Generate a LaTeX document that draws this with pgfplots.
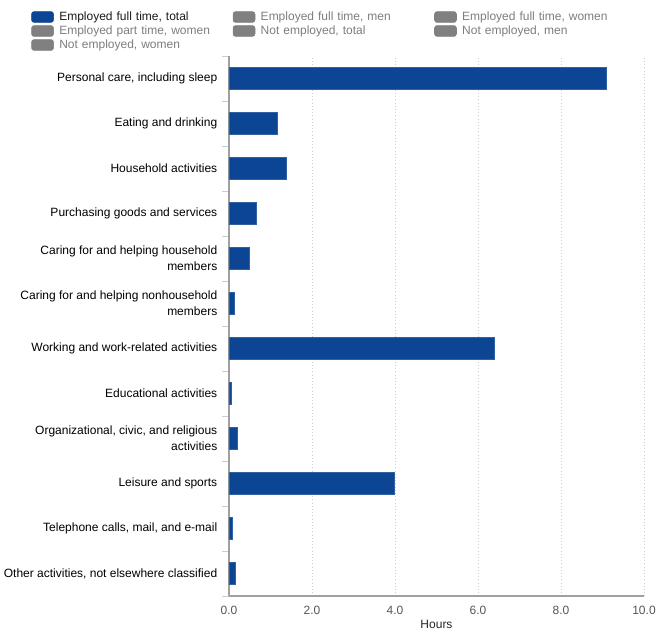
\documentclass[border=0pt]{standalone}
\usepackage{pgfplots}
\pgfplotsset{compat=1.18}
\usepackage{fontspec}
\setmainfont{Liberation Sans}
\definecolor{barblue}{RGB}{11,69,147}
\definecolor{leggray}{RGB}{128,128,128}
\definecolor{legtext}{RGB}{125,125,125}
\definecolor{axgray}{RGB}{160,160,160}
\definecolor{gridgray}{RGB}{205,205,205}
\definecolor{ticklab}{RGB}{85,85,85}
\definecolor{mintick}{RGB}{195,205,220}
\begin{document}
\begin{tikzpicture}
\begin{axis}[
  name=ax,
  width=311.25pt, height=405pt, scale only axis,
  xbar, bar width=16.3pt,
  xmin=0, xmax=10, ymin=-0.5, ymax=11.5,
  axis x line*=bottom, axis y line*=left,
  axis line style={axgray, line width=0.9pt},
  xtick={0,2,4,6,8,10},
  xticklabels={0.0,2.0,4.0,6.0,8.0,10.0},
  xmajorgrids, grid style={gridgray, dotted, line width=0.6pt},
  major x tick style={draw=none},
  ytick={0,...,11},
  major y tick style={draw=none},
  minor ytick={-0.5,0.5,...,11.5},
  minor y tick style={mintick, line width=0.6pt},
  tick align=outside,
  minor tick length=5pt,
  yticklabels={
    {Other activities, not elsewhere classified},
    {Telephone calls, mail, and e-mail},
    {Leisure and sports},
    {Organizational, civic, and religious\\activities},
    {Educational activities},
    {Working and work-related activities},
    {Caring for and helping nonhousehold\\members},
    {Caring for and helping household\\members},
    {Purchasing goods and services},
    {Household activities},
    {Eating and drinking},
    {Personal care, including sleep}},
  yticklabel style={align=right, font=\fontsize{9}{12}\selectfont, text=black, xshift=-1pt},
  xticklabel style={font=\fontsize{9}{11}\selectfont, text=ticklab},
  xlabel={Hours},
  xlabel style={font=\fontsize{9}{11}\selectfont, text=black!85, yshift=2.5pt},
  legend columns=3,
  legend cell align=left,
  legend style={at={(axis description cs:-0.4867,1.0900)}, anchor=north west,
    draw=none, fill=none, font=\fontsize{9}{10}\selectfont,
    /tikz/every odd column/.style={column sep=3.5pt},
    /tikz/every even column/.style={column sep=0pt},
    nodes={text width=129.5pt, inner sep=0.6pt, text height=6.8pt, text depth=2pt},
    /tikz/row sep=0.5pt},
]
\addplot[fill=barblue, draw=barblue!85!white, line width=0.4pt,
  legend image code/.code={\fill[barblue, rounded corners=2pt] (0pt,-4.1pt) rectangle (16.5pt,4.1pt);}]
  coordinates {
  (0.16,0) (0.08,1) (3.98,2) (0.20,3) (0.06,4) (6.39,5)
  (0.12,6) (0.49,7) (0.65,8) (1.39,9) (1.16,10) (9.08,11)};
\addlegendentry{\textcolor{black!90}{Employed full time, total}}
\addlegendimage{legend image code/.code={\fill[leggray, rounded corners=2pt] (0pt,-4.1pt) rectangle (16.5pt,4.1pt);}}
\addlegendentry{\textcolor{legtext}{Employed full time, men}}
\addlegendimage{legend image code/.code={\fill[leggray, rounded corners=2pt] (0pt,-4.1pt) rectangle (16.5pt,4.1pt);}}
\addlegendentry{\textcolor{legtext}{Employed full time, women}}
\addlegendimage{legend image code/.code={\fill[leggray, rounded corners=2pt] (0pt,-4.1pt) rectangle (16.5pt,4.1pt);}}
\addlegendentry{\textcolor{legtext}{Employed part time, women}}
\addlegendimage{legend image code/.code={\fill[leggray, rounded corners=2pt] (0pt,-4.1pt) rectangle (16.5pt,4.1pt);}}
\addlegendentry{\textcolor{legtext}{Not employed, total}}
\addlegendimage{legend image code/.code={\fill[leggray, rounded corners=2pt] (0pt,-4.1pt) rectangle (16.5pt,4.1pt);}}
\addlegendentry{\textcolor{legtext}{Not employed, men}}
\addlegendimage{legend image code/.code={\fill[leggray, rounded corners=2pt] (0pt,-4.1pt) rectangle (16.5pt,4.1pt);}}
\addlegendentry{\textcolor{legtext}{Not employed, women}}
\end{axis}
\pgfresetboundingbox
\path[use as bounding box] ([xshift=-171.75pt,yshift=-27pt]ax.south west) rectangle ([xshift=9.75pt,yshift=42pt]ax.north east);
\end{tikzpicture}
\end{document}
